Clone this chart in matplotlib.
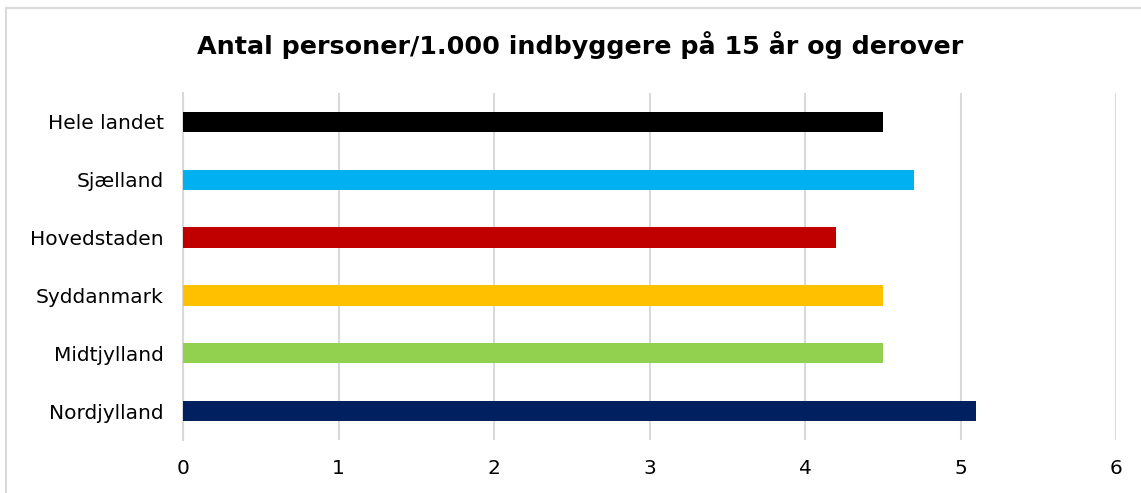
import matplotlib.pyplot as plt
from matplotlib.patches import Rectangle

regioner = ["Hele landet", "Sjælland", "Hovedstaden", "Syddanmark", "Midtjylland", "Nordjylland"]
vaerdier = [4.5, 4.7, 4.2, 4.5, 4.5, 5.1]
farver = ["#000000", "#00B0F0", "#C00000", "#FFC000", "#92D050", "#002060"]
xticks = [0, 1, 2, 3, 4, 5, 6]

fig = plt.figure(figsize=(11.41, 4.93), dpi=100)
ax = fig.add_axes([183 / 1141, 1 - 440 / 493, (1116 - 183) / 1141, (440 - 93) / 493])

# ramme om diagrammet (beskåret i højre og nederste kant)
fig.patches.append(Rectangle((6 / 1141, -0.05), 1.2, 1 - 8 / 493 + 0.05,
                             transform=fig.transFigure, fill=False,
                             edgecolor="#d9d9d9", linewidth=1.5))

y = list(range(len(regioner)))
ax.barh(y, vaerdier, height=0.35, color=farver, zorder=3)
ax.set_ylim(len(regioner) - 0.5, -0.5)
ax.set_xlim(0, 6)
ax.set_xticks(xticks)
ax.set_yticks(y)
ax.set_yticklabels(regioner)
ax.grid(axis="x", color="#d9d9d9", linewidth=1.5, zorder=0)
for s in ["top", "right", "bottom"]:
    ax.spines[s].set_visible(False)
ax.spines["left"].set_color("#d9d9d9")
ax.spines["left"].set_linewidth(1.5)
ax.tick_params(axis="both", length=0, labelsize=14.5)
ax.tick_params(axis="x", pad=14)
ax.tick_params(axis="y", pad=14)

fig.text(580 / 1141, 1 - 45 / 493, "Antal personer/1.000 indbyggere på 15 år og derover",
         ha="center", va="center", fontsize=18.3, fontweight="bold", family="DejaVu Sans")

fig.savefig("out.png", dpi=100)
